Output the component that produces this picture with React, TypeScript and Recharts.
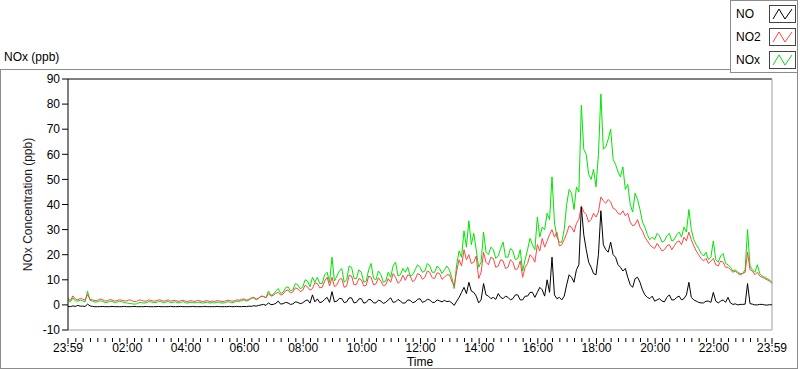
import React from 'react';
import { LineChart, Line, XAxis, YAxis, ReferenceLine, Label } from 'recharts';

// minutes after 23:59, one sample every 5 minutes
const TIMES: number[] = Array.from({ length: 289 }, (_, i) => i * 5);

const NO: number[] = [
  -0.6, -0.7, -0.4, -0.6, -0.2, -0.5, -0.5, -0.6, 0.3, -0.4, -0.6, -0.7,
  -0.7, -0.7, -0.6, -0.7, -0.7, -0.7, -0.6, -0.7, -0.7, -0.7, -0.7, -0.6,
  -0.7, -0.7, -0.7, -0.6, -0.7, -0.7, -0.7, -0.7, -0.6, -0.7, -0.7, -0.7,
  -0.7, -0.6, -0.7, -0.7, -0.7, -0.7, -0.6, -0.7, -0.7, -0.7, -0.6, -0.7,
  -0.7, -0.7, -0.7, -0.6, -0.7, -0.7, -0.7, -0.7, -0.6, -0.7, -0.7, -0.7,
  -0.7, -0.6, -0.7, -0.7, -0.7, -0.7, -0.6, -0.7, -0.7, -0.6, -0.7, -0.7,
  -0.6, -0.7, -0.5, -0.6, -0.3, -0.5, -0.2, 0.0, 0.2, -0.2, 0.8, 0.1,
  0.2, 0.6, 1.5, 0.3, 0.5, 1.0, 0.8, 0.2, 0.4, 1.2, 1.0, 0.5,
  0.8, 1.6, 2.0, 0.7, 4.0, 1.2, 2.4, 0.9, 1.2, 2.2, 3.0, 1.0,
  5.3, 1.2, 1.5, 2.6, 2.5, 0.9, 1.2, 2.8, 2.8, 0.8, 1.0, 2.4,
  2.5, 0.7, 1.0, 2.2, 2.0, 0.8, 0.8, 1.9, 1.5, 0.6, 1.0, 2.0,
  2.8, 1.0, 1.2, 2.2, 1.5, 0.7, 0.8, 2.0, 1.8, 0.9, 1.2, 2.2,
  2.5, 1.0, 1.4, 2.2, 2.0, 1.0, 1.0, 2.0, 1.6, 1.2, 1.8, 1.3,
  1.5, 0.8, -0.2, 1.5, 3.0, 5.0, 7.0, 4.5, 9.0, 5.5, 5.0, 3.5,
  0.8, 2.0, 8.5, 4.0, 3.5, 2.5, 3.0, 2.2, 4.5, 3.0, 2.5, 3.5,
  3.0, 2.0, 2.5, 4.0, 4.0, 2.0, 2.0, 3.5, 3.5, 5.0, 5.0, 3.0,
  5.0, 7.0, 6.0, 3.5, 10.0, 5.0, 19.0, 4.0, 2.5, 3.0, 2.0, 3.5,
  8.0, 12.0, 11.0, 9.0, 14.0, 16.0, 39.0, 28.0, 22.0, 17.0, 15.0, 12.5,
  12.0, 20.0, 37.5, 24.0, 22.0, 21.0, 25.0, 20.0, 19.0, 16.0, 15.0, 13.5,
  14.5, 11.0, 8.0, 7.0, 10.5, 11.0, 9.0, 6.0, 4.0, 3.0, 2.5, 3.5,
  1.5, 2.0, 2.5, 1.5, 1.2, 3.0, 4.0, 2.0, 2.0, 3.0, 3.5, 2.0,
  2.5, 4.0, 9.0, 3.0, 2.0, 1.5, 1.0, 0.8, 0.8, 1.5, 1.5, 1.0,
  5.0, 1.5, 0.8, 1.5, 2.0, 1.0, 3.0, 0.8, 0.2, 0.4, 0.0, 0.2,
  0.2, 0.3, 8.5, 0.5, 0.3, 0.0, 0.0, 0.2, 0.2, 0.0, -0.1, 0.1,
  0.0,
];

const NO2: number[] = [
  2.5, 1.8, 3.6, 2.4, 2.0, 2.6, 2.3, 1.9, 4.2, 2.2, 2.0, 1.7,
  1.8, 2.3, 2.2, 1.6, 1.6, 2.1, 2.0, 1.5, 1.7, 2.0, 1.9, 1.6,
  1.6, 2.0, 1.8, 1.3, 1.4, 1.9, 1.9, 1.5, 1.5, 2.0, 1.8, 1.5,
  1.6, 2.0, 1.9, 1.5, 1.7, 2.0, 1.5, 1.7, 1.8, 1.4, 1.6, 1.9,
  1.5, 1.3, 1.7, 1.5, 1.4, 1.8, 1.6, 1.3, 1.5, 1.7, 1.3, 1.5,
  1.4, 1.7, 1.6, 1.3, 1.4, 1.8, 1.8, 1.5, 1.6, 2.0, 1.9, 2.2,
  2.4, 1.9, 2.2, 2.8, 3.0, 2.3, 2.7, 3.4, 3.3, 2.8, 4.5, 3.5,
  3.8, 4.6, 5.0, 3.9, 4.3, 5.6, 6.0, 4.8, 5.2, 6.8, 6.4, 5.3,
  5.8, 7.8, 7.2, 5.9, 6.5, 8.8, 8.5, 6.8, 7.0, 9.5, 11.0, 7.5,
  11.0, 7.2, 8.0, 10.2, 10.5, 7.0, 7.5, 11.8, 11.5, 8.0, 8.2, 10.5,
  10.0, 7.5, 7.8, 11.5, 11.0, 8.0, 8.4, 10.8, 9.5, 7.6, 8.0, 10.5,
  9.0, 12.5, 11.0, 8.6, 9.5, 11.8, 9.8, 12.0, 11.5, 9.2, 10.0, 12.5,
  12.0, 10.2, 11.0, 13.5, 13.0, 10.8, 10.5, 12.8, 12.5, 10.2, 11.0, 12.0,
  12.0, 9.5, 7.5, 13.5, 18.0, 15.5, 22.0, 18.0, 20.0, 16.5, 17.0, 19.5,
  10.5, 13.0, 21.0, 17.0, 16.0, 19.0, 18.5, 15.0, 15.5, 18.0, 17.5, 14.5,
  15.0, 18.0, 17.0, 14.0, 14.5, 17.5, 11.0, 15.0, 16.5, 20.0, 19.0, 17.0,
  24.0, 21.5, 26.5, 23.0, 25.5, 28.0, 30.0, 27.0, 29.0, 23.5, 24.0, 26.0,
  28.5, 31.5, 31.0, 29.0, 32.5, 34.0, 39.5, 37.0, 36.0, 33.0, 34.0, 36.5,
  35.0, 37.0, 43.0, 41.5, 40.5, 42.0, 41.0, 38.5, 38.0, 36.5, 36.0, 37.5,
  35.5, 36.5, 33.0, 31.5, 32.0, 34.0, 31.0, 29.5, 27.0, 25.5, 24.0, 23.0,
  22.5, 24.5, 23.0, 21.5, 22.0, 23.5, 24.0, 22.0, 23.5, 25.0, 25.5, 24.0,
  27.0, 25.5, 29.0, 26.0, 23.5, 21.5, 20.0, 18.5, 17.5, 18.5, 16.5, 17.5,
  18.5, 16.0, 15.5, 17.5, 17.0, 15.0, 15.0, 14.0, 13.0, 13.5, 12.5, 12.0,
  12.5, 13.0, 21.0, 14.0, 13.5, 12.0, 13.0, 11.5, 11.0, 10.5, 10.0, 9.5,
  8.5,
];

const NOX: number[] = [
  1.8, 1.2, 2.8, 1.6, 1.5, 1.9, 1.6, 1.2, 5.4, 1.8, 1.5, 1.1,
  1.2, 1.6, 1.5, 1.0, 1.0, 1.4, 1.4, 0.9, 1.1, 1.4, 1.3, 0.9,
  0.8, 0.6, 0.5, 0.3, 0.4, 0.9, 1.0, 0.7, 0.9, 1.3, 1.2, 0.9,
  1.0, 1.3, 1.3, 0.9, 1.1, 1.3, 0.9, 1.1, 1.2, 0.8, 1.0, 1.3,
  0.9, 0.7, 1.1, 0.9, 0.8, 1.1, 1.0, 0.7, 0.9, 1.1, 0.7, 0.9,
  0.8, 1.1, 1.0, 0.7, 0.8, 1.2, 1.2, 0.9, 1.1, 1.4, 1.4, 1.7,
  2.0, 1.5, 1.9, 2.6, 2.8, 2.0, 2.6, 3.5, 3.4, 2.9, 5.5, 3.8,
  4.2, 5.5, 6.5, 4.6, 5.0, 6.8, 7.2, 5.6, 6.0, 8.5, 8.0, 6.4,
  7.0, 10.0, 9.5, 7.2, 11.0, 9.0, 11.0, 8.5, 8.5, 12.0, 13.0, 9.0,
  19.0, 9.5, 11.5, 13.5, 14.5, 9.0, 10.0, 15.5, 15.0, 10.5, 10.5, 14.0,
  13.0, 9.0, 9.5, 14.0, 16.5, 10.5, 10.0, 13.5, 12.0, 9.0, 9.5, 13.0,
  11.0, 15.5, 17.0, 11.5, 12.0, 14.5, 13.0, 15.0, 11.5, 12.0, 14.0, 16.0,
  15.0, 13.0, 13.5, 16.5, 15.5, 13.0, 13.0, 15.5, 14.5, 12.5, 14.0, 15.5,
  14.0, 11.0, 6.5, 16.0, 21.5, 19.0, 29.5, 23.0, 33.5, 24.0, 28.5, 22.0,
  15.0, 17.0, 29.0, 21.0, 20.0, 23.0, 22.0, 18.5, 19.5, 22.5, 25.0, 19.0,
  19.0, 22.5, 21.5, 18.0, 18.5, 22.0, 13.5, 18.0, 22.0, 26.5, 24.0, 22.0,
  35.0, 27.0, 31.0, 30.0, 36.5, 34.0, 51.0, 33.0, 27.0, 25.0, 25.0, 30.0,
  40.0, 46.0, 44.5, 38.0, 47.0, 45.0, 79.5, 62.0, 60.0, 52.0, 50.0, 54.0,
  47.0, 60.0, 84.0, 62.0, 63.0, 66.0, 70.0, 58.0, 56.0, 53.0, 51.0, 55.0,
  46.0, 48.0, 40.0, 37.0, 44.5, 42.0, 38.0, 33.0, 31.0, 28.0, 26.0, 27.0,
  26.0, 28.5, 27.5, 25.0, 25.5, 27.5, 28.5, 25.5, 26.0, 28.0, 29.0, 27.0,
  31.0, 29.0, 38.0, 30.0, 26.0, 24.0, 22.5, 20.5, 19.5, 21.0, 18.0, 19.0,
  25.5, 18.0, 17.0, 19.5, 20.5, 16.5, 16.0, 15.0, 13.5, 14.0, 13.0, 12.5,
  12.5, 14.0, 30.0, 15.5, 14.0, 13.0, 16.0, 12.5, 11.5, 11.0, 10.5, 10.0,
  9.0,
];

const Y_TICKS = [-10, 0, 10, 20, 30, 40, 50, 60, 70, 80, 90];
const MAJOR_TICKS = [0, 121, 241, 361, 481, 601, 721, 841, 961, 1081, 1201, 1321, 1440];
const MAJOR_LABELS = ['23:59', '02:00', '04:00', '06:00', '08:00', '10:00', '12:00', '14:00', '16:00', '18:00', '20:00', '22:00', '23:59'];
const MINOR_TICKS: number[] = Array.from({ length: 95 }, (_, k) => 16 + k * 15).filter(
  (t) => t < 1440 && !MAJOR_TICKS.includes(t)
);
const SERIES = [
  { key: 'no', name: 'NO', color: '#000000' },
  { key: 'no2', name: 'NO2', color: '#ff4444' },
  { key: 'nox', name: 'NOx', color: '#00e600' },
];

const FONT = '"Liberation Sans", Arial, sans-serif';

const data = TIMES.map((t, i) => ({ t, no: NO[i], no2: NO2[i], nox: NOX[i] }));
const allTicks = [...MAJOR_TICKS, ...MINOR_TICKS].sort((a, b) => a - b);

const TimeTick = ({ x, y, payload }: any) => {
  const idx = MAJOR_TICKS.indexOf(payload.value);
  const major = idx >= 0;
  return (
    <g>
      <line x1={x} x2={x} y1={y} y2={y + (major ? 6 : 4)} stroke="#000" />
      {major && (
        <text x={x} y={y + 14} textAnchor="middle" fontSize={12} fontFamily={FONT} fill="#000">
          {MAJOR_LABELS[idx]}
        </text>
      )}
    </g>
  );
};

const Swatch = ({ color }: { color: string }) => (
  <svg width={27} height={18} style={{ display: 'block' }}>
    <rect x={0.5} y={0.5} width={26} height={17} fill="#fff" stroke="#444" />
    <polyline points="4,14 10,4 16,14 23,4" fill="none" stroke={color} strokeWidth={1} />
  </svg>
);

export default function App() {
  return (
    <div style={{ position: 'absolute', left: 0, top: 0, width: 800, height: 369, background: '#fff', fontFamily: FONT }}>
      <div style={{ position: 'absolute', left: 0, top: 69, width: 796, height: 298, border: '1px solid #8c8c8c' }} />
      <div style={{ position: 'absolute', left: 4, top: 50, fontSize: 12, color: '#000' }}>NOx (ppb)</div>
      <div
        style={{
          position: 'absolute',
          left: 730,
          top: 0,
          width: 66,
          height: 71,
          border: '1px solid #8c8c8c',
          background: '#fff',
          zIndex: 2,
        }}
      >
        {SERIES.map((s, i) => (
          <div key={s.key} style={{ position: 'absolute', left: 5, top: 4 + i * 23, height: 18, width: 60 }}>
            <span style={{ position: 'absolute', left: 0, top: 2, fontSize: 12, color: '#000' }}>{s.name}</span>
            <div style={{ position: 'absolute', left: 33, top: 0 }}>
              <Swatch color={s.color} />
            </div>
          </div>
        ))}
      </div>
      <div style={{ position: 'absolute', left: 0, top: 0 }}>
        <LineChart width={800} height={369} data={data} margin={{ top: 79, right: 28, bottom: 0, left: 0 }}>
          <XAxis
            dataKey="t"
            type="number"
            domain={[0, 1440]}
            ticks={allTicks}
            interval={0}
            tick={<TimeTick />}
            tickLine={false}
            axisLine={{ stroke: '#a0a0a0' }}
            height={39}
          >
            <Label value="Time" position="insideBottom" offset={3} style={{ fontSize: 12, fontFamily: FONT, fill: '#000' }} />
          </XAxis>
          <YAxis
            type="number"
            domain={[-10, 90]}
            ticks={Y_TICKS}
            interval={0}
            width={68}
            tickSize={6}
            tickMargin={2}
            tickLine={{ stroke: '#000' }}
            axisLine={{ stroke: '#000' }}
            tick={{ fontSize: 12, fontFamily: FONT, fill: '#000' }}
          >
            <Label
              value="NOx Concentration (ppb)"
              angle={-90}
              position="insideLeft"
              offset={28}
              style={{ fontSize: 12, fontFamily: FONT, fill: '#1a1a1a', textAnchor: 'middle' }}
            />
          </YAxis>
          <ReferenceLine y={90} stroke="#000" />
          <ReferenceLine x={1440} stroke="#a0a0a0" />
          <Line type="linear" dataKey="nox" stroke="#00e600" strokeWidth={1} dot={false} isAnimationActive={false} />
          <Line type="linear" dataKey="no2" stroke="#ff4444" strokeWidth={1} dot={false} isAnimationActive={false} />
          <Line type="linear" dataKey="no" stroke="#000000" strokeWidth={1} dot={false} isAnimationActive={false} />
        </LineChart>
      </div>
    </div>
  );
}
